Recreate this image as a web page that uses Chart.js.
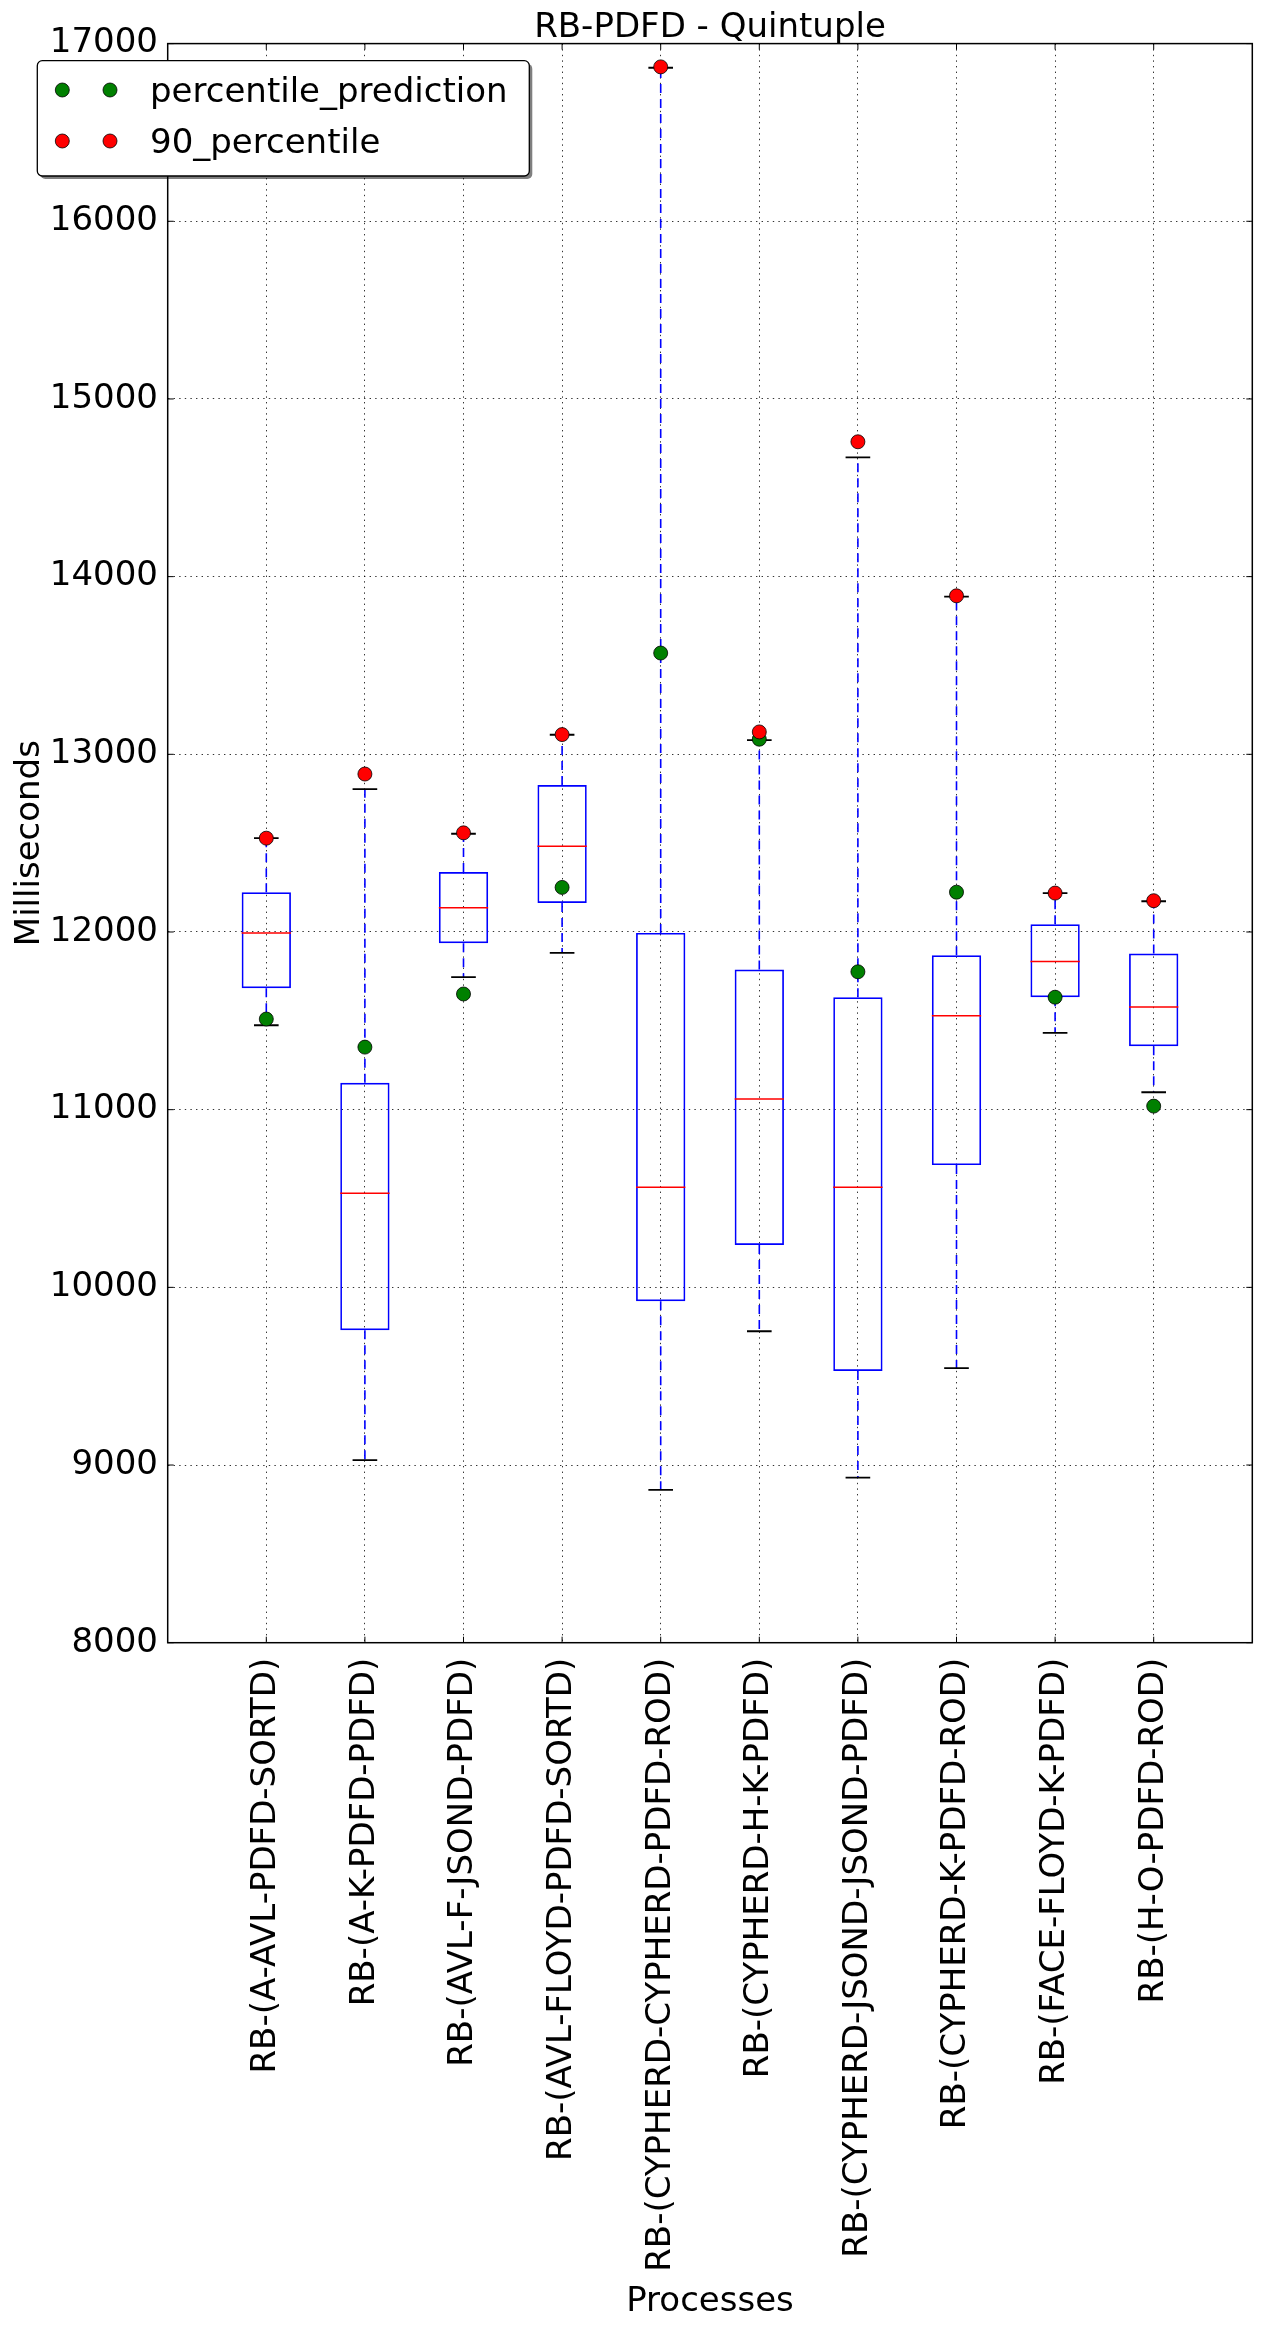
<!DOCTYPE html>
<html>
<head>
<meta charset="utf-8">
<script src="https://cdn.jsdelivr.net/npm/chart.js@4.4.1/dist/chart.umd.min.js"></script>
<style>
html, body { margin: 0; padding: 0; background: #ffffff; }
canvas { display: block; }
</style>
</head>
<body>
<canvas id="c" width="1262" height="2328"></canvas>
<script>
// ---------------- data ----------------
const categories = [
  'RB-(A-AVL-PDFD-SORTD)',
  'RB-(A-K-PDFD-PDFD)',
  'RB-(AVL-F-JSOND-PDFD)',
  'RB-(AVL-FLOYD-PDFD-SORTD)',
  'RB-(CYPHERD-CYPHERD-PDFD-ROD)',
  'RB-(CYPHERD-H-K-PDFD)',
  'RB-(CYPHERD-JSOND-JSOND-PDFD)',
  'RB-(CYPHERD-K-PDFD-ROD)',
  'RB-(FACE-FLOYD-K-PDFD)',
  'RB-(H-O-PDFD-ROD)'
];
const whiskerLow  = [11475,  9028, 11746, 11882,  8860,  9753,  8929,  9545, 11432, 11098];
const q1          = [11683,  9759, 11937, 12163,  9922, 10238,  9529, 10688, 11633, 11357];
const median      = [11995, 10530, 12136, 12482, 10563, 11060, 10563, 11528, 11834, 11578];
const q3          = [12224, 11151, 12337, 12827, 11995, 11789, 11633, 11869, 12043, 11879];
const whiskerHigh = [12528, 12804, 12553, 13110, 16864, 13080, 14671, 13887, 12219, 12173];
const percentilePrediction = [11510, 11352, 11651, 12251, 13570, 13085, 11776, 12224, 11633, 11020];
const percentile90         = [12528, 12889, 12558, 13111, 16869, 13126, 14759, 13892, 12219, 12176];
const yTicks = [8000, 9000, 10000, 11000, 12000, 13000, 14000, 15000, 16000, 17000];
const chartTitle = 'RB-PDFD - Quintuple';
const xTitle = 'Processes';
const yTitle = 'Milliseconds';
const legendLabels = ['percentile_prediction', '90_percentile'];

// ---------------- build library data ----------------
const positions = categories.map((_, i) => i + 1);
const BOX_HALF = 0.25, CAP_HALF = 0.125;

const boxData = positions.map((x, i) => ({ x: x, y: [q1[i], q3[i]] }));
const whiskerData = positions.flatMap((x, i) => [
  { x: x, y: q3[i] }, { x: x, y: whiskerHigh[i] }, { x: x, y: null },
  { x: x, y: q1[i] }, { x: x, y: whiskerLow[i] }, { x: x, y: null }
]);
const capData = positions.flatMap((x, i) => [
  { x: x - CAP_HALF, y: whiskerHigh[i] }, { x: x + CAP_HALF, y: whiskerHigh[i] }, { x: x, y: null },
  { x: x - CAP_HALF, y: whiskerLow[i] }, { x: x + CAP_HALF, y: whiskerLow[i] }, { x: x, y: null }
]);
const medianData = positions.flatMap((x, i) => [
  { x: x - BOX_HALF, y: median[i] }, { x: x + BOX_HALF, y: median[i] }, { x: x, y: null }
]);
const predData = positions.map((x, i) => ({ x: x, y: percentilePrediction[i] }));
const p90Data = positions.map((x, i) => ({ x: x, y: percentile90[i] }));

Chart.defaults.font.family = 'DejaVu Sans';
Chart.defaults.color = '#000000';

const FONT = { family: 'DejaVu Sans', size: 34, weight: 'normal' };
const CANVAS_H = 2328;
const PLOT_TOP = 43.6;
const PLOT_BOTTOM = 1642.7;
const PLOT_LEFT = 167.7;

function roundRectPath(ctx, x, y, w, h, r) {
  ctx.beginPath();
  ctx.moveTo(x + r, y);
  ctx.lineTo(x + w - r, y);
  ctx.arcTo(x + w, y, x + w, y + r, r);
  ctx.lineTo(x + w, y + h - r);
  ctx.arcTo(x + w, y + h, x + w - r, y + h, r);
  ctx.lineTo(x + r, y + h);
  ctx.arcTo(x, y + h, x, y + h - r, r);
  ctx.lineTo(x, y + r);
  ctx.arcTo(x, y, x + r, y, r);
  ctx.closePath();
}

const bgPlugin = {
  id: 'bg',
  beforeDraw(chart) {
    const ctx = chart.ctx;
    ctx.save();
    ctx.fillStyle = '#ffffff';
    ctx.fillRect(0, 0, chart.width, chart.height);
    ctx.restore();
  }
};

const titlePlugin = {
  id: 'axesTitle',
  afterDraw(chart) {
    const ctx = chart.ctx, a = chart.chartArea;
    ctx.save();
    ctx.fillStyle = '#000000';
    ctx.font = '34px "DejaVu Sans"';
    ctx.textAlign = 'center';
    ctx.textBaseline = 'alphabetic';
    ctx.fillText(chartTitle, (a.left + a.right) / 2, a.top - 6.9);
    ctx.restore();
  }
};

const framePlugin = {
  id: 'frame',
  afterDraw(chart) {
    const ctx = chart.ctx, a = chart.chartArea;
    const xs = chart.scales.x, ys = chart.scales.y;
    ctx.save();
    ctx.strokeStyle = '#000000';
    ctx.lineWidth = 1;
    const TL = 6;
    ctx.beginPath();
    yTicks.forEach(v => {
      const py = ys.getPixelForValue(v);
      ctx.moveTo(a.left, py); ctx.lineTo(a.left + TL, py);
      ctx.moveTo(a.right, py); ctx.lineTo(a.right - TL, py);
    });
    positions.forEach(v => {
      const px = xs.getPixelForValue(v);
      ctx.moveTo(px, a.bottom); ctx.lineTo(px, a.bottom - TL);
      ctx.moveTo(px, a.top); ctx.lineTo(px, a.top + TL);
    });
    ctx.stroke();
    ctx.lineWidth = 1.5;
    ctx.strokeRect(a.left, a.top, a.right - a.left, a.bottom - a.top);
    ctx.restore();
  }
};

const legendPlugin = {
  id: 'mplLegend',
  afterDraw(chart) {
    const ctx = chart.ctx, a = chart.chartArea;
    const x0 = a.left - 130.4, y0 = a.top + 17.1, w = 492, h = 115.3, r = 5;
    ctx.save();
    ctx.fillStyle = 'rgba(0,0,0,0.5)';
    roundRectPath(ctx, x0 + 3, y0 + 3, w, h, r);
    ctx.fill();
    ctx.fillStyle = '#ffffff';
    roundRectPath(ctx, x0, y0, w, h, r);
    ctx.fill();
    ctx.strokeStyle = '#000000';
    ctx.lineWidth = 1.3;
    ctx.stroke();
    const entries = chart.data.datasets.filter(d => legendLabels.includes(d.label));
    entries.forEach((d, k) => {
      const ry = y0 + 29.3 + k * 51;
      [x0 + 25, x0 + 72.7].forEach(mx => {
        ctx.beginPath();
        ctx.arc(mx, ry, 7, 0, Math.PI * 2);
        ctx.fillStyle = d.pointBackgroundColor;
        ctx.fill();
        ctx.lineWidth = 0.8;
        ctx.strokeStyle = '#000000';
        ctx.stroke();
      });
      ctx.fillStyle = '#000000';
      ctx.font = '34px "DejaVu Sans"';
      ctx.textAlign = 'left';
      ctx.textBaseline = 'alphabetic';
      ctx.fillText(d.label, x0 + 112.7, ry + 11.7);
    });
    ctx.restore();
  }
};

new Chart(document.getElementById('c'), {
  type: 'bar',
  data: {
    datasets: [
      {
        type: 'bar', label: 'boxes', data: boxData,
        backgroundColor: 'rgba(0,0,0,0)', borderColor: '#0000ff', borderWidth: 1.7,
        borderSkipped: false, inflateAmount: 0,
        categoryPercentage: 1.0, barPercentage: 0.5, order: 5
      },
      {
        type: 'line', label: 'whiskers', data: whiskerData,
        borderColor: '#0000ff', borderWidth: 1.6, borderDash: [9, 6],
        pointRadius: 0, fill: false, spanGaps: false, tension: 0, order: 4
      },
      {
        type: 'line', label: 'caps', data: capData,
        borderColor: '#000000', borderWidth: 1.8,
        pointRadius: 0, fill: false, spanGaps: false, tension: 0, order: 3
      },
      {
        type: 'line', label: 'medians', data: medianData,
        borderColor: '#ff0000', borderWidth: 1.5,
        pointRadius: 0, fill: false, spanGaps: false, tension: 0, order: 3
      },
      {
        type: 'line', label: legendLabels[0], data: predData, showLine: false,
        pointRadius: 7, pointBackgroundColor: '#008000', pointBorderColor: '#000000',
        pointBorderWidth: 0.8, order: 1
      },
      {
        type: 'line', label: legendLabels[1], data: p90Data, showLine: false,
        pointRadius: 7, pointBackgroundColor: '#ff0000', pointBorderColor: '#000000',
        pointBorderWidth: 0.8, order: 0
      }
    ]
  },
  options: {
    responsive: false,
    animation: false,
    events: [],
    layout: { padding: { top: PLOT_TOP, left: 0, right: 9.7, bottom: 0 } },
    plugins: {
      legend: { display: false },
      tooltip: { enabled: false },
      title: { display: false }
    },
    scales: {
      x: {
        type: 'linear', min: 0, max: 11, offset: false, z: 1,
        afterBuildTicks: (s) => { s.ticks = positions.map(v => ({ value: v })); },
        afterFit: (s) => { s.height = CANVAS_H - PLOT_BOTTOM; s.paddingLeft = 0; s.paddingRight = 0; },
        grid: { display: true, offset: false, drawTicks: false, color: 'rgba(0,0,0,0.8)', lineWidth: 1 },
        border: { display: false, dash: [1.4, 4.2] },
        ticks: {
          autoSkip: false, minRotation: 90, maxRotation: 90, padding: 15,
          font: FONT, color: '#000000',
          callback: (value) => categories[value - 1] || ''
        },
        title: {
          display: true, text: xTitle, color: '#000000',
          font: FONT, padding: { top: 0, bottom: 5.6 }
        }
      },
      y: {
        type: 'linear', min: 8000, max: 17000, z: 1,
        afterBuildTicks: (s) => { s.ticks = yTicks.map(v => ({ value: v })); },
        afterFit: (s) => { s.width = PLOT_LEFT; s.paddingTop = 0; },
        grid: { display: true, drawTicks: false, color: 'rgba(0,0,0,0.8)', lineWidth: 1 },
        border: { display: false, dash: [1.4, 4.2] },
        ticks: {
          padding: 9.7, font: FONT, color: '#000000',
          callback: (value) => String(value)
        },
        title: {
          display: true, text: yTitle, color: '#000000',
          font: FONT, padding: { top: 10, bottom: 0 }
        }
      }
    }
  },
  plugins: [bgPlugin, titlePlugin, framePlugin, legendPlugin]
});
</script>
</body>
</html>
